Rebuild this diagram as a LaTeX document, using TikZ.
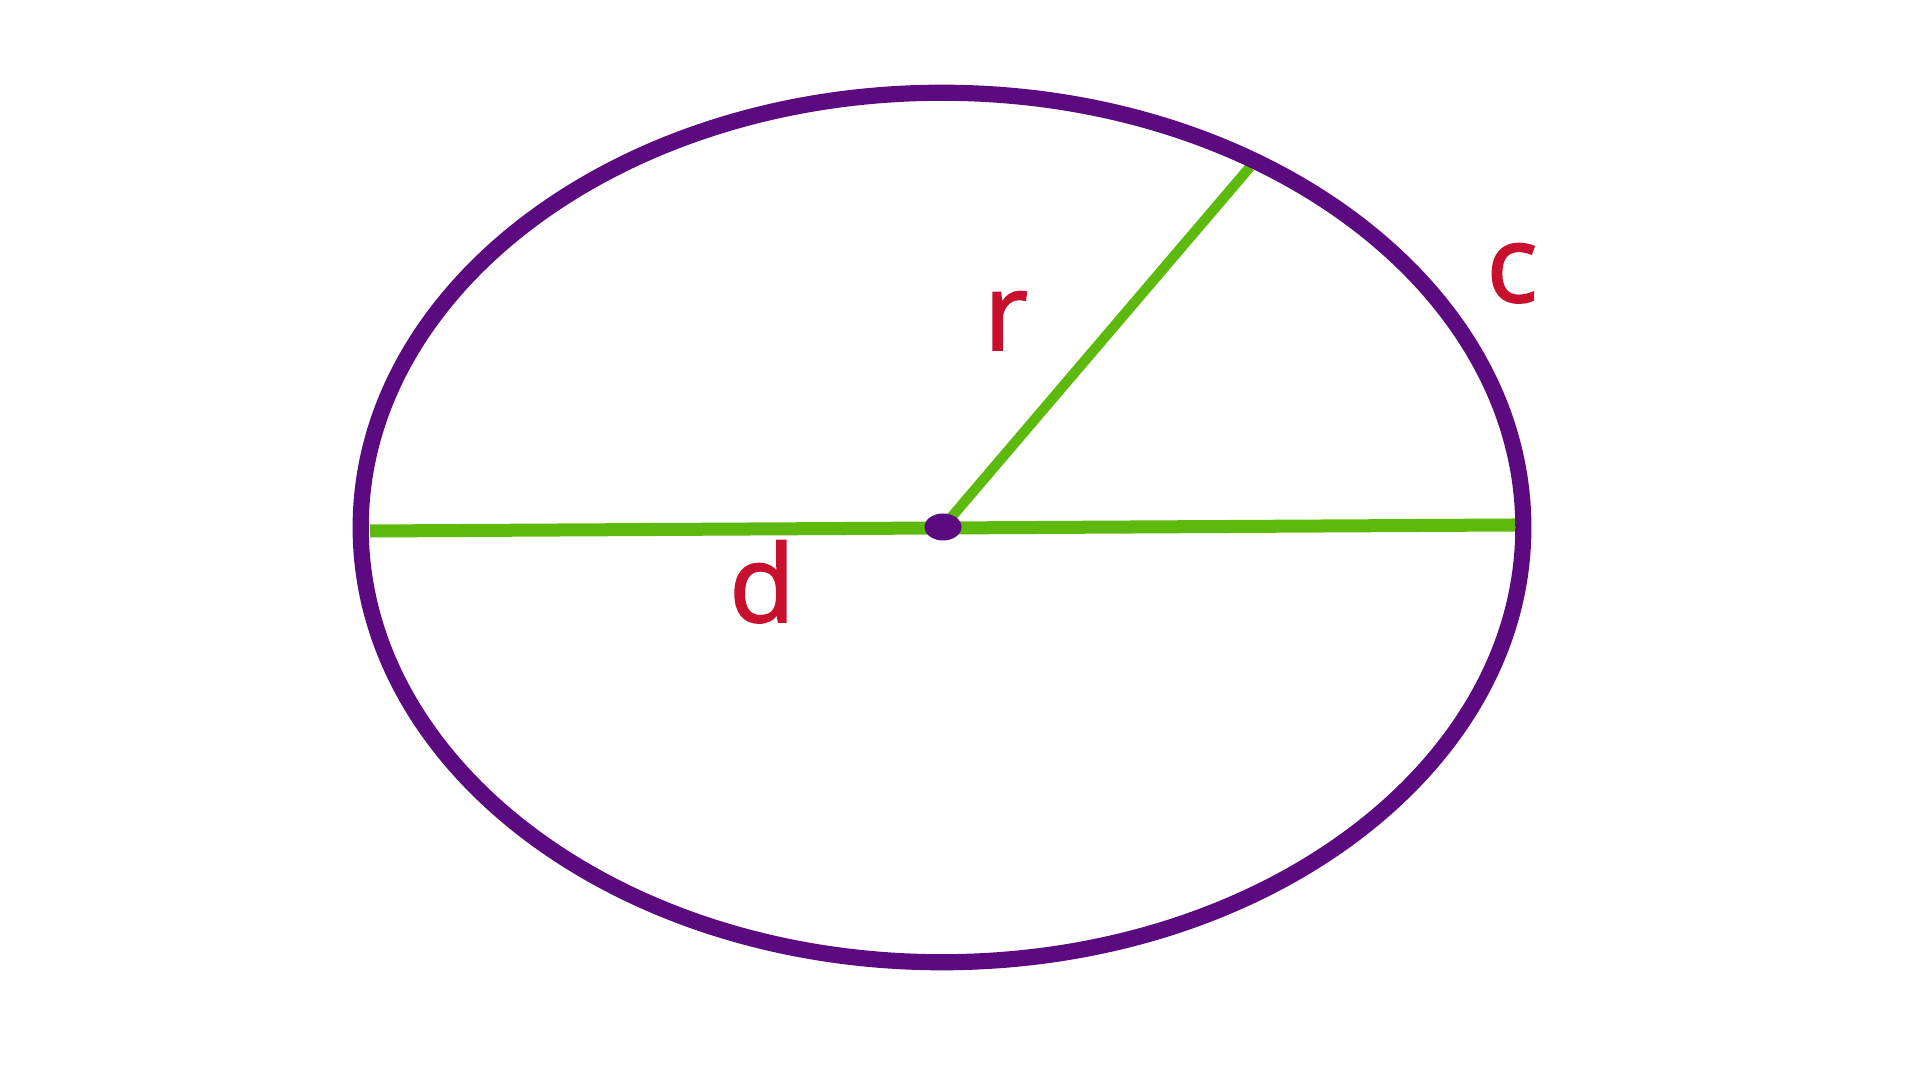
\documentclass[tikz,border=0pt]{standalone}
\usepackage{fontspec}
\setmainfont{Open Sans}
\newfontfamily\lblfont{Open Sans}[FakeBold=1.6]
\definecolor{circpurple}{HTML}{5C0A80}
\definecolor{linegreen}{HTML}{5DB90C}
\definecolor{labelred}{HTML}{C8102E}
\begin{document}
\begin{tikzpicture}[x=0.01cm,y=-0.01cm,
  lbl/.style={text=labelred,font=\lblfont\fontsize{30.5}{36}\selectfont,anchor=base,inner sep=0pt}]
  \useasboundingbox (0,0) rectangle (1920,1080); %frame of the picture

  \coordinate (O) at (942,527.5); %centre of the circle
  \coordinate (L) at (370,531); %left end of d
  \coordinate (R) at (1515,525); %right end of d
  \coordinate (P) at (1250,167); %end of r

  \draw[linegreen,line width=3.7pt] (L) -- (R); %diameter
  \draw[linegreen,line width=2.9pt] (943,527) -- (P); %radius
  \draw[circpurple,line width=4.6pt] (O) ellipse (5.81cm and 4.345cm); %circle
  \fill[circpurple] (943,527) ellipse (0.185cm and 0.135cm) node (M){}; %centre point

  \node (r) [lbl] at (1006,350) {r}; %radius label
  \node (d) [lbl] at (762,622) {d}; %diameter label
  \node (c) [lbl] at (1512,302) {c}; %circumference label
\end{tikzpicture}
\end{document}
